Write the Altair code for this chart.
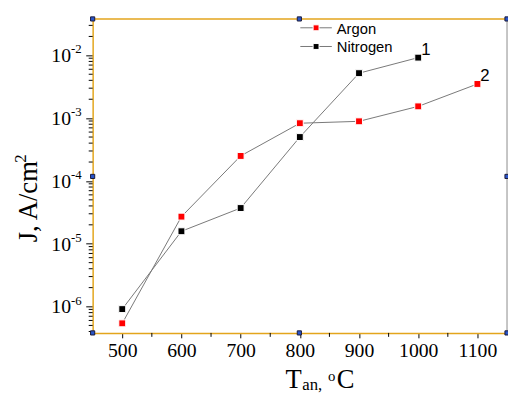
import altair as alt
import pandas as pd

# ---- data ----
temps_argon = [500, 600, 700, 800, 900, 1000, 1100]
j_argon = [5.4e-7, 2.7e-5, 2.5e-4, 8.3e-4, 8.9e-4, 1.54e-3, 3.5e-3]
temps_nitrogen = [500, 600, 700, 800, 900, 1000]
j_nitrogen = [9.1e-7, 1.58e-5, 3.7e-5, 5.0e-4, 5.2e-3, 9.2e-3]

series_names = ["Argon", "Nitrogen"]
series_colors = ["#ff0000", "#000000"]
end_labels = ["2", "1"]

x_ticks = [500, 600, 700, 800, 900, 1000, 1100]
x_minor = [550, 650, 750, 850, 950, 1050]
decades = [1e-6, 1e-5, 1e-4, 1e-3, 1e-2]
decade_exps = ["-6", "-5", "-4", "-3", "-2"]
y_lo, y_hi = 3.8e-7, 0.038
y_minor = [k * 10.0 ** e for e in range(-7, -1) for k in range(2, 10)
           if y_lo <= k * 10.0 ** e <= y_hi]

W, H = 421, 319
GOLD = "#e3a51c"
SERIF = "Liberation Serif"
SANS = "Liberation Sans"

df = pd.DataFrame({
    "T": temps_argon + temps_nitrogen,
    "J": j_argon + j_nitrogen,
    "series": ["Argon"] * len(temps_argon) + ["Nitrogen"] * len(temps_nitrogen),
})
df_end = pd.DataFrame({
    "T": [temps_argon[-1], temps_nitrogen[-1]],
    "J": [j_argon[-1], j_nitrogen[-1]],
    "label": end_labels,
})
df_dec = pd.DataFrame({"J": decades, "exp": decade_exps})
df_ymin = pd.DataFrame({"J": y_minor})
df_xmin = pd.DataFrame({"T": x_minor})
one = pd.DataFrame({"a": [0]})

xs = alt.Scale(domain=[450, 1150], nice=False, zero=False)
ys = alt.Scale(type="log", domain=[y_lo, y_hi], nice=False)
cs = alt.Scale(domain=series_names, range=series_colors)

x_axis = alt.Axis(values=x_ticks, format="d", tickSize=5, tickColor="black",
                  labelFont=SERIF, labelFontSize=20, labelColor="black",
                  labelPadding=3, domainColor=GOLD, domainWidth=1.5, grid=False,
                  title=None)
y_axis = alt.Axis(values=decades, tickSize=7, tickColor="black", labels=False,
                  domainColor=GOLD, domainWidth=1.5, grid=False, title=None)

X = alt.X("T:Q", scale=xs, axis=x_axis)
Y = alt.Y("J:Q", scale=ys, axis=y_axis)

lines = alt.Chart(df).mark_line(color="#777777", strokeWidth=1).encode(
    x=X, y=Y, detail="series:N",
)
points = alt.Chart(df).mark_point(shape="square", filled=True, size=49,
                                  stroke="white", strokeWidth=1, opacity=1).encode(
    x=X, y=Y,
    fill=alt.Fill("series:N", scale=cs, legend=None),
)
end_text = alt.Chart(df_end).mark_text(font=SANS, fontSize=17, align="left",
                                       baseline="middle", dx=3, dy=-8,
                                       color="black").encode(
    x=X, y=Y, text="label:N",
)
ylab10 = alt.Chart(df_dec).mark_text(font=SERIF, fontSize=20, align="right",
                                     baseline="middle", color="black", dy=1).encode(
    x=alt.value(-22), y=Y, text=alt.value("10"))
ylabexp = alt.Chart(df_dec).mark_text(font=SERIF, fontSize=13, align="left",
                                      baseline="middle", color="black", dy=-6).encode(
    x=alt.value(-22), y=Y, text="exp:N")
ymin = alt.Chart(df_ymin).mark_rule(color="black", strokeWidth=1).encode(
    y=Y, x=alt.value(-4), x2=alt.value(0))
xmin = alt.Chart(df_xmin).mark_rule(color="black", strokeWidth=1).encode(
    x=X, y=alt.value(H), y2=alt.value(H + 4))

top = alt.Chart(one).mark_rule(color=GOLD, strokeWidth=1.5).encode(
    x=alt.value(0), x2=alt.value(W), y=alt.value(0))
right = alt.Chart(one).mark_rule(color="#8a8a8a", strokeWidth=1).encode(
    x=alt.value(W), y=alt.value(0), y2=alt.value(H))

# y title: "J, A/cm" with raised "2", rotated
yt = [
    alt.Chart(one).mark_text(font=SERIF, fontSize=27, align="left", angle=270,
                             baseline="alphabetic", color="black").encode(
        x=alt.value(-57), y=alt.value(227), text=alt.value("J, A/cm")),
    alt.Chart(one).mark_text(font=SERIF, fontSize=17, align="left", angle=270,
                             baseline="alphabetic", color="black").encode(
        x=alt.value(-68), y=alt.value(146), text=alt.value("2")),
]

# custom legend
leg_layers = []
for i, (name, col) in enumerate(zip(series_names, series_colors)):
    yy = 9 + 19 * i
    leg_layers.append(alt.Chart(one).mark_rule(color="#777777", strokeWidth=1).encode(
        x=alt.value(211), x2=alt.value(243), y=alt.value(yy)))
    leg_layers.append(alt.Chart(one).mark_point(shape="square", filled=True, size=36,
                                                fill=col, stroke="white", strokeWidth=1,
                                                opacity=1).encode(
        x=alt.value(227), y=alt.value(yy)))
    leg_layers.append(alt.Chart(one).mark_text(font=SANS, fontSize=15, align="left",
                                               baseline="middle", color="black").encode(
        x=alt.value(248), y=alt.value(yy + 1), text=alt.value(name)))

# x title built from pieces (T, subscript "an,", superscript "o", C)
xt = [
    alt.Chart(one).mark_text(font=SERIF, fontSize=27, align="left",
                             baseline="alphabetic", color="black").encode(
        x=alt.value(196), y=alt.value(375), text=alt.value("T")),
    alt.Chart(one).mark_text(font=SERIF, fontSize=17, align="left",
                             baseline="alphabetic", color="black").encode(
        x=alt.value(213), y=alt.value(377), text=alt.value("an,")),
    alt.Chart(one).mark_text(font=SERIF, fontSize=15, align="left",
                             baseline="alphabetic", color="black").encode(
        x=alt.value(239), y=alt.value(368), text=alt.value("o")),
    alt.Chart(one).mark_text(font=SERIF, fontSize=27, align="left",
                             baseline="alphabetic", color="black").encode(
        x=alt.value(248), y=alt.value(375), text=alt.value("C")),
]

# small selection handles on the frame
handles = []
for hx, hy in [(0, 0), (210, 0), (W, 0), (0, 160), (W, 160), (0, H), (210, H), (W, H)]:
    handles.append(alt.Chart(one).mark_point(shape="square", filled=True, size=18,
                                             fill="#2a55c8", stroke="#1a1a3a",
                                             strokeWidth=1, opacity=1).encode(
        x=alt.value(hx), y=alt.value(hy)))

chart = alt.layer(
    lines, ymin, xmin, top, right, points, end_text, ylab10, ylabexp,
    *yt, *leg_layers, *xt, *handles
).properties(
    width=W, height=H,
    autosize=alt.AutoSizeParams(type="none"),
    padding={"left": 86, "top": 8, "right": 1, "bottom": 62},
).configure_view(stroke=None)

chart.save("out.html", embed_options={"renderer": "svg", "actions": False})
